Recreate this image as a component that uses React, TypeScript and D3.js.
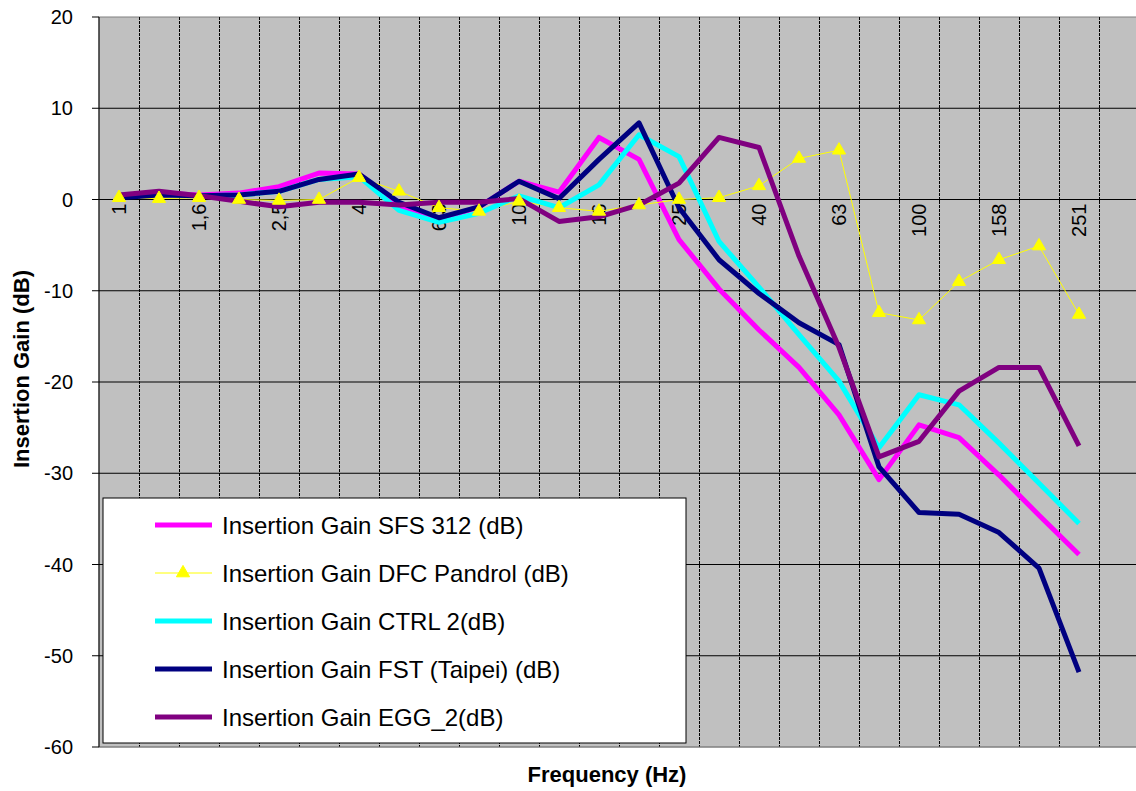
import React from "react";
import * as d3 from "d3";

const categories = ["1","1,25","1,6","2","2,5","3,15","4","5","6,3","8","10","12,5","16","20","25","31,5","40","50","63","80","100","125","158","200","251","316"];
const yTicks = [20, 10, 0, -10, -20, -30, -40, -50, -60];

const sfs312 = [0.3, 0.7, 0.5, 0.7, 1.4, 2.9, 2.8, -0.8, -2.2, -0.8, 2.0, 0.8, 6.8, 4.4, -4.4, -9.8, -14.3, -18.4, -23.6, -30.7, -24.7, -26.1, -30.2, -34.6, -38.9];
const dfcPandrol = [0.2, 0.1, 0.2, 0.0, -0.1, 0.0, 2.4, 0.9, -0.9, -1.3, -0.2, -0.9, -1.3, -0.6, 0.0, 0.2, 1.5, 4.5, 5.4, -12.4, -13.2, -9.0, -6.6, -5.1, -12.6];
const ctrl2 = [0.3, 0.6, 0.4, 0.5, 0.9, 2.2, 2.5, -1.2, -2.5, -1.5, 0.4, -0.9, 1.6, 7.1, 4.7, -4.6, -9.6, -14.8, -19.9, -27.2, -21.4, -22.5, -26.7, -31.1, -35.5];
const fstTaipei = [0.2, 0.5, 0.4, 0.5, 0.9, 2.2, 2.8, -0.3, -2.0, -0.8, 2.0, 0.1, 4.4, 8.4, -0.9, -6.6, -10.3, -13.5, -15.9, -29.3, -34.3, -34.5, -36.5, -40.4, -51.8];
const egg2 = [0.5, 0.9, 0.4, -0.2, -0.8, -0.3, -0.3, -0.6, -0.3, -0.3, 0.1, -2.4, -1.9, -0.6, 1.8, 6.8, 5.7, -6.2, -16.2, -28.2, -26.5, -21.0, -18.4, -18.4, -27.0];

const seriesNames = [
  "Insertion Gain SFS 312 (dB)",
  "Insertion Gain DFC Pandrol (dB)",
  "Insertion Gain CTRL 2(dB)",
  "Insertion Gain FST (Taipei) (dB)",
  "Insertion Gain EGG_2(dB)",
];
const seriesData = [sfs312, dfcPandrol, ctrl2, fstTaipei, egg2];
const seriesColors = ["#FF00FF", "#FFFF00", "#00FFFF", "#000080", "#800080"];
const seriesWidths = [5, 1, 5, 5, 5];

const FONT = "'Liberation Sans', Arial, Helvetica, sans-serif";

export default function App() {
  const W = 1136, H = 791;
  const left = 99, right = 1139, top = 17, bottom = 747;
  const x = d3.scaleBand<string>().domain(categories).range([left, right]).padding(0);
  const y = d3.scaleLinear().domain([-60, 20]).range([bottom, top]);
  const cx = (i: number) => (x(categories[i]) as number) + x.bandwidth() / 2;
  const line = d3.line<number>().x((_, i) => cx(i)).y((d) => y(d));
  const tri = d3.symbol().type(d3.symbolTriangle).size(75)();
  const bounds = categories.slice(1).map((c) => x(c) as number);

  return (
    <svg width={W} height={H} style={{ position: "absolute", left: 0, top: 0, background: "#fff" }} fontFamily={FONT}>
      <rect x={left} y={top} width={right - left} height={bottom - top} fill="#C0C0C0" stroke="#808080" strokeWidth={1} />
      {bounds.map((bx, i) => (
        <line key={"v" + i} x1={bx + 0.5} x2={bx + 0.5} y1={top} y2={bottom} stroke="#000" strokeWidth={1} strokeDasharray="3,1" />
      ))}
      {yTicks.filter((t) => t !== 20 && t !== -60).map((t) => (
        <line key={"h" + t} x1={left} x2={right} y1={y(t)} y2={y(t)} stroke="#000" strokeWidth={1} />
      ))}
      <line x1={left} x2={right} y1={bottom} y2={bottom} stroke="#808080" strokeWidth={1} />
      {/* y axis */}
      <line x1={left} x2={left} y1={top} y2={bottom} stroke="#000" strokeWidth={1} />
      {yTicks.map((t) => (
        <g key={"yt" + t}>
          <line x1={left - 7} x2={left} y1={y(t)} y2={y(t)} stroke="#000" strokeWidth={1} />
          <text x={73} y={y(t)} textAnchor="end" dominantBaseline="central" fontSize={20} fill="#000">{t}</text>
        </g>
      ))}
      {/* x axis ticks */}
      {bounds.map((bx, i) => (
        <line key={"xt" + i} x1={bx + 0.5} x2={bx + 0.5} y1={y(0)} y2={y(0) + 4} stroke="#000" strokeWidth={1} />
      ))}
      {categories.map((c, i) => i % 2 === 0 && i < 25 ? (
        <text key={"xl" + i} transform={`translate(${cx(i) + 7},${y(0) + 4}) rotate(-90)`} textAnchor="end" fontSize={20} fill="#000">{c}</text>
      ) : null)}
      {/* series lines */}
      {seriesData.map((d, s) => (
        <path key={"s" + s} d={line(d) as string} fill="none" stroke={seriesColors[s]} strokeWidth={seriesWidths[s]} strokeLinejoin="round" />
      ))}
      {dfcPandrol.map((v, i) => (
        <path key={"m" + i} d={tri as string} transform={`translate(${cx(i)},${y(v)})`} fill="#FFFF00" stroke="#FFFF00" strokeWidth={1} />
      ))}
      {/* axis titles */}
      <text transform={`translate(29,369) rotate(-90)`} textAnchor="middle" fontSize={22} fontWeight="bold" fill="#000">Insertion Gain (dB)</text>
      <text x={607} y={782} textAnchor="middle" fontSize={22} fontWeight="bold" fill="#000">Frequency (Hz)</text>
      {/* legend */}
      <rect x={103} y={498} width={583} height={245} fill="#fff" stroke="#000" strokeWidth={1} />
      {seriesNames.map((n, s) => {
        const ly = 525 + 48 * s;
        return (
          <g key={"lg" + s}>
            <line x1={155} x2={212} y1={ly} y2={ly} stroke={seriesColors[s]} strokeWidth={seriesWidths[s]} />
            {s === 1 ? <path d={tri as string} transform={`translate(183,${ly})`} fill="#FFFF00" stroke="#FFFF00" /> : null}
            <text x={222} y={ly} dominantBaseline="central" fontSize={24} fill="#000">{n}</text>
          </g>
        );
      })}
    </svg>
  );
}
